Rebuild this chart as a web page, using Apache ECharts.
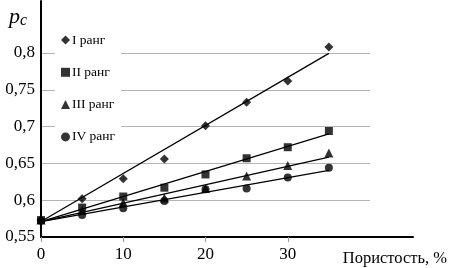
<!DOCTYPE html>
<html>
<head>
<meta charset="utf-8">
<script src="https://cdn.jsdelivr.net/npm/echarts@6/dist/echarts.min.js"></script>
<style>
	html, body { margin: 0; padding: 0; background: #fff; }
	#chart { width: 450px; height: 268px; }
</style>
</head>
<body>
<div id="chart"></div>
<script>
const porosity = [ 0, 5, 10, 15, 20, 25, 30, 35 ];
const rankNames = [ 'I ранг', 'II ранг', 'III ранг', 'IV ранг' ];
const rank1 = [ 0.573, 0.602, 0.629, 0.656, 0.701, 0.733, 0.762, 0.808 ];
const rank2 = [ 0.573, 0.590, 0.605, 0.617, 0.635, 0.657, 0.672, 0.694 ];
const rank3 = [ 0.573, 0.586, 0.597, 0.603, 0.616, 0.633, 0.647, 0.664 ];
const rank4 = [ 0.572, 0.580, 0.589, 0.599, 0.615, 0.616, 0.631, 0.644 ];
// linear trend lines, value at x = 0 and x = 35
const trendX = [ 0, 35 ];
const trendStart = [ 0.571, 0.571, 0.571, 0.571 ];
const trendEnd = [ 0.7995, 0.690, 0.6585, 0.6405 ];
const symbols = [ 'diamond', 'rect', 'triangle', 'circle' ];
const symbolSizes = [ 9, 8, 9, 8 ];

const FONT = '"Liberation Serif", "Times New Roman", serif';

const zip = ( xs, ys ) => xs.map( ( x, i ) => [ x, ys[ i ] ] );

/**
 * Formats a value with a decimal comma, e.g. 0.75 -> "0,75".
 *
 * @param {number} value
 * @return {string}
 */
const commaFormatter = ( value ) => String( +value.toFixed( 2 ) ).replace( '.', ',' );

const ranks = [ rank1, rank2, rank3, rank4 ];

const scatterSeries = ranks.map( ( values, i ) => ( {
	name: rankNames[ i ],
	type: 'scatter',
	xAxisIndex: 0,
	yAxisIndex: 0,
	symbol: symbols[ i ],
	symbolSize: symbolSizes[ i ],
	itemStyle: { color: '#000' },
	clip: false,
	z: 4,
	data: zip( porosity, values )
} ) );

const trendSeries = ranks.map( ( values, i ) => ( {
	name: 'trend ' + rankNames[ i ],
	type: 'line',
	xAxisIndex: 0,
	yAxisIndex: 0,
	symbol: 'none',
	silent: true,
	clip: false,
	lineStyle: { color: '#000', width: 1.3 },
	z: 3,
	data: zip( trendX, [ trendStart[ i ], trendEnd[ i ] ] )
} ) );

const chart = echarts.init( document.getElementById( 'chart' ), null, { renderer: 'canvas' } );

chart.setOption( {
	animation: false,
	backgroundColor: '#fff',
	grid: [
		// plot area with the gridlines
		{ left: 41, right: 80, top: 53, bottom: 31 },
		// longer axis lines that run past the plot area
		{ left: 41, right: 37, top: 1, bottom: 31 }
	],
	xAxis: [
		{
			gridIndex: 0,
			type: 'value',
			min: 0,
			max: 40,
			interval: 10,
			axisLine: { show: false },
			axisTick: { show: true, length: 5, lineStyle: { color: '#999' } },
			splitLine: { show: false },
			axisLabel: {
				showMaxLabel: false,
				margin: 9,
				color: '#000',
				fontFamily: FONT,
				fontSize: 17
			}
		},
		{
			gridIndex: 1,
			type: 'value',
			min: 0,
			max: 45,
			axisLine: { show: true, onZero: false, lineStyle: { color: '#000', width: 2 } },
			axisTick: { show: false },
			axisLabel: { show: false },
			splitLine: { show: false },
			name: 'Пористость, %',
			nameLocation: 'end',
			nameGap: 34,
			nameTextStyle: {
				color: '#000',
				fontFamily: FONT,
				fontSize: 16.5,
				align: 'right',
				verticalAlign: 'top',
				padding: [ 13, 0, 0, 0 ]
			}
		}
	],
	yAxis: [
		{
			gridIndex: 0,
			type: 'value',
			min: 0.55,
			max: 0.8,
			interval: 0.05,
			axisLine: { show: false },
			axisTick: { show: false },
			splitLine: { show: true, lineStyle: { color: '#b4b4b4', width: 1 } },
			axisLabel: {
				formatter: commaFormatter,
				margin: 6,
				color: '#000',
				fontFamily: FONT,
				fontSize: 17
			}
		},
		{
			gridIndex: 1,
			type: 'value',
			min: 0.55,
			max: 0.86,
			axisLine: { show: true, onZero: false, lineStyle: { color: '#000', width: 2 } },
			axisTick: { show: false },
			axisLabel: { show: false },
			splitLine: { show: false },
			name: '{p|p}{c|c}',
			nameLocation: 'end',
			nameGap: -4,
			nameTextStyle: {
				align: 'right',
				verticalAlign: 'top',
				padding: [ 0, 14, 0, 0 ],
				rich: {
					p: { fontFamily: FONT, fontStyle: 'italic', fontSize: 22, color: '#000' },
					c: { fontFamily: FONT, fontStyle: 'italic', fontSize: 16, color: '#000', padding: [ 8, 0, 0, 0 ] }
				}
			}
		}
	],
	legend: {
		data: rankNames,
		orient: 'vertical',
		left: 55,
		top: 29,
		padding: [ 4, 6, 4, 6 ],
		itemGap: 18.3,
		itemWidth: 9,
		itemHeight: 9,
		backgroundColor: '#fff',
		textStyle: { color: '#000', fontFamily: FONT, fontSize: 13.5, padding: [ 0, 0, 0, -3 ] }
	},
	series: trendSeries.concat( scatterSeries )
} );
</script>
</body>
</html>
